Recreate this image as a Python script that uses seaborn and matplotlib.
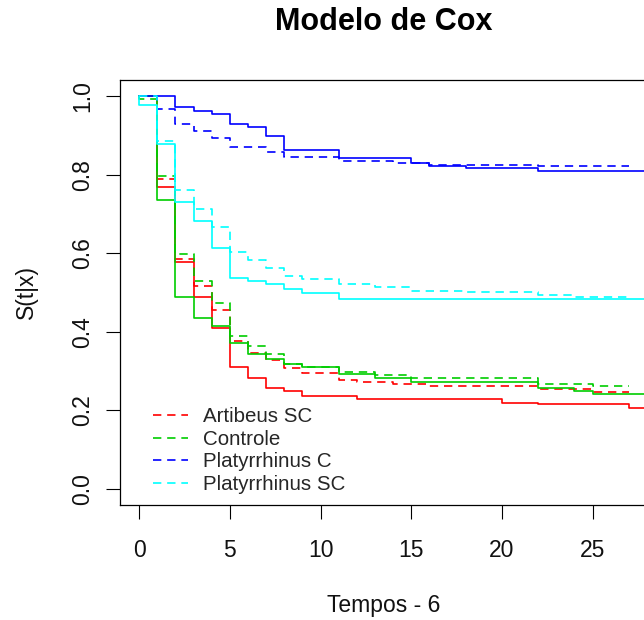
import matplotlib
matplotlib.use("Agg")
import matplotlib.pyplot as plt
from matplotlib.lines import Line2D
import seaborn as sns

# step curves (time, S(t|x)); "_c" = solid, "_d" = dashed
art_c_t = [0, 1, 2, 3, 4, 5, 6, 7, 8, 9, 12, 20, 22, 27, 29]
art_c_s = [1.0, 0.768, 0.577, 0.488, 0.409, 0.311, 0.282, 0.258, 0.250, 0.237, 0.229, 0.220, 0.215, 0.207, 0.207]
art_d_t = [0, 1, 2, 3, 4, 5, 6, 7, 8, 9, 11, 12, 14, 16, 22, 25, 27]
art_d_s = [1.0, 0.789, 0.585, 0.517, 0.455, 0.376, 0.347, 0.328, 0.307, 0.294, 0.277, 0.272, 0.267, 0.262, 0.254, 0.246, 0.246]

ctl_c_t = [0, 1, 2, 3, 4, 5, 6, 7, 8, 9, 11, 13, 15, 22, 24, 25, 29]
ctl_c_s = [1.0, 0.735, 0.488, 0.436, 0.415, 0.371, 0.344, 0.331, 0.317, 0.311, 0.292, 0.282, 0.271, 0.258, 0.250, 0.242, 0.242]
ctl_d_t = [0, 0, 1, 2, 3, 4, 5, 6, 7, 8, 9, 11, 13, 15, 22, 25, 27]
ctl_d_s = [1.0, 0.992, 0.797, 0.597, 0.528, 0.473, 0.388, 0.363, 0.343, 0.318, 0.311, 0.297, 0.290, 0.282, 0.267, 0.263, 0.263]

plc_c_t = [0, 2, 3, 4, 5, 6, 7, 8, 11, 15, 16, 18, 22, 29]
plc_c_s = [1.0, 0.971, 0.963, 0.955, 0.930, 0.922, 0.898, 0.862, 0.841, 0.830, 0.821, 0.816, 0.808, 0.808]
plc_d_t = [0, 1, 2, 3, 4, 5, 7, 8, 11, 14, 16, 22, 27]
plc_d_s = [1.0, 0.966, 0.928, 0.910, 0.893, 0.869, 0.858, 0.846, 0.835, 0.829, 0.824, 0.821, 0.821]

psc_c_t = [0, 0, 1, 2, 3, 4, 5, 6, 7, 8, 9, 11, 29]
psc_c_s = [1.0, 0.976, 0.878, 0.729, 0.683, 0.614, 0.538, 0.529, 0.522, 0.509, 0.498, 0.484, 0.484]
psc_d_t = [0, 1, 2, 3, 4, 5, 6, 7, 8, 9, 11, 13, 15, 18, 22, 24, 27]
psc_d_s = [1.0, 0.886, 0.760, 0.712, 0.666, 0.602, 0.583, 0.563, 0.542, 0.534, 0.522, 0.513, 0.504, 0.500, 0.493, 0.488, 0.488]

groups = ["Artibeus SC", "Controle", "Platyrrhinus C", "Platyrrhinus SC"]
colors = ["#FF0000", "#00CD00", "#0000FF", "#00FFFF"]

sns.set_style("ticks")
plt.rcParams["font.family"] = ["Liberation Sans", "DejaVu Sans"]

fig = plt.figure(figsize=(6.44, 6.2), dpi=100)
ax = fig.add_axes([0.1856, 0.186, 0.8214, 0.6845])

curves = [
    (art_c_t, art_c_s, art_d_t, art_d_s),
    (ctl_c_t, ctl_c_s, ctl_d_t, ctl_d_s),
    (plc_c_t, plc_c_s, plc_d_t, plc_d_s),
    (psc_c_t, psc_c_s, psc_d_t, psc_d_s),
]
dash = (5, 3.5)
for (ct, cs, dt, ds), col in zip(curves, colors):
    sns.lineplot(x=ct, y=cs, estimator=None, sort=False, drawstyle="steps-post",
                 color=col, linewidth=1.2, ax=ax)
    sns.lineplot(x=dt, y=ds, estimator=None, sort=False, drawstyle="steps-post",
                 color=col, linewidth=1.2, dashes=False, ax=ax)
    ax.lines[-1].set_dashes(dash)

ax.set_xlim(-1.08, 28.08)
ax.set_ylim(-0.04, 1.04)
ax.set_xticks([0, 5, 10, 15, 20, 25])
ax.set_yticks([0.0, 0.2, 0.4, 0.6, 0.8, 1.0])
ax.set_yticklabels(["0.0", "0.2", "0.4", "0.6", "0.8", "1.0"], rotation=90, va="center")
ax.tick_params(axis="both", length=10, width=0.8, color="black", labelsize=16.5,
               labelcolor="#111111")
ax.tick_params(axis="x", pad=15)
ax.tick_params(axis="y", pad=8)
for sp in ax.spines.values():
    sp.set_color("black")
    sp.set_linewidth(0.9)

ax.set_xlabel("Tempos - 6", fontsize=16.5, color="#111111", va="center")
ax.xaxis.set_label_coords(0.5, (504.7 - 606) / 424.4)
ax.set_ylabel("S(t|x)", fontsize=16.5, color="#111111", va="center")
ax.yaxis.set_label_coords((26 - 119.5) / 529, 0.5)
ax.set_title("Modelo de Cox", fontsize=22, fontweight="bold", color="black", pad=36)

handles = [Line2D([0], [0], color=c, linewidth=1.2, dashes=dash) for c in colors]
ax.legend(handles, groups, loc="upper left", bbox_to_anchor=(0.0633, 0.229),
          frameon=False, fontsize=14.8, handlelength=1.7, handletextpad=0.75,
          labelspacing=0.17, borderpad=0, borderaxespad=0)

fig.savefig("out.png", dpi=100)
